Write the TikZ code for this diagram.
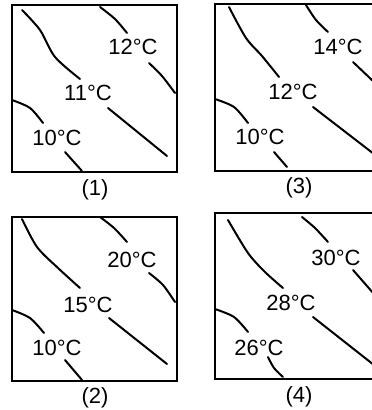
\documentclass[tikz,border=0pt]{standalone}
\usepackage{fontspec}
\setmainfont{Liberation Sans}
\usetikzlibrary{positioning}

\begin{document}
\begin{tikzpicture}[
    x=1pt, y=-1pt,
    panel/.style={
        draw=black,
        line width=1.3pt
    },
    isoline/.style={
        line width=2pt,
        line cap=round
    },
    temp/.style={
        font=\fontsize{22}{24}\selectfont,
        inner sep=0pt
    },
    caption/.style={
        font=\fontsize{22}{24}\selectfont,
        inner sep=0pt
    }
]

\useasboundingbox (0,0) rectangle (372,410);
\clip (0,0) rectangle (372,410);

% Panel (1)
\draw[panel] (12,5) rectangle (177,172);
\draw[isoline] plot[smooth] coordinates {(22,10) (40,30) (55,57) (80,79)};
\draw[isoline] plot[smooth] coordinates {(100,7) (115,19) (127,33)};
\draw[isoline] plot[smooth] coordinates {(149,63) (162,76) (175,93)};
\draw[isoline] (108,108) -- (167,156);
\draw[isoline] plot[smooth] coordinates {(12,100) (30,108) (43,123)};
\draw[isoline] (65,152) -- (82,171);
\node[temp] (p1high) at (133,47) {12°C};
\node[temp] (p1mid) at (88,93) {11°C};
\node[temp] (p1low) at (57,138) {10°C};
\node[caption] (cap1) at (95,190) {(1)};

% Panel (3)
\draw[panel] (215,4) rectangle (390,171);
\draw[isoline] plot[smooth] coordinates {(229,7) (246,38) (262,56) (279,77)};
\draw[isoline] plot[smooth] coordinates {(306,5) (316,20) (328,32)};
\draw[isoline] (353,62) -- (374,82);
\draw[isoline] (313,107) -- (374,154);
\draw[isoline] plot[smooth] coordinates {(215,99) (234,107) (248,123)};
\draw[isoline] (274,152) -- (287,167);
\node[temp] (p3high) at (338,47) {14°C};
\node[temp] (p3mid) at (293,92) {12°C};
\node[temp] (p3low) at (260,137) {10°C};
\node[caption] (cap3) at (299,188) {(3)};

% Panel (2)
\draw[panel] (12,217) rectangle (177,381);
\draw[isoline] plot[smooth] coordinates {(22,219) (37,247) (58,268) (80,288)};
\draw[isoline] plot[smooth] coordinates {(100,217) (114,228) (127,242)};
\draw[isoline] plot[smooth] coordinates {(149,273) (163,285) (175,302)};
\draw[isoline] (109,318) -- (167,364);
\draw[isoline] plot[smooth] coordinates {(12,310) (30,318) (44,333)};
\draw[isoline] (65,360) -- (82,380);
\node[temp] (p2high) at (132,260) {20°C};
\node[temp] (p2mid) at (88,305) {15°C};
\node[temp] (p2low) at (57,348) {10°C};
\node[caption] (cap2) at (95,398) {(2)};

% Panel (4)
\draw[panel] (215,213) rectangle (390,379);
\draw[isoline] plot[smooth] coordinates {(228,220) (248,253) (265,272) (283,288)};
\draw[isoline] plot[smooth] coordinates {(302,217) (315,228) (328,242)};
\draw[isoline] (353,270) -- (374,294);
\draw[isoline] (313,317) -- (374,365);
\draw[isoline] plot[smooth] coordinates {(215,309) (234,317) (248,332)};
\draw[isoline] plot[smooth] coordinates {(268,357) (274,368) (283,377)};
\node[temp] (p4high) at (336,258) {30°C};
\node[temp] (p4mid) at (291,303) {28°C};
\node[temp] (p4low) at (259,348) {26°C};
\node[caption] (cap4) at (299,397) {(4)};

\end{tikzpicture}
\end{document}
